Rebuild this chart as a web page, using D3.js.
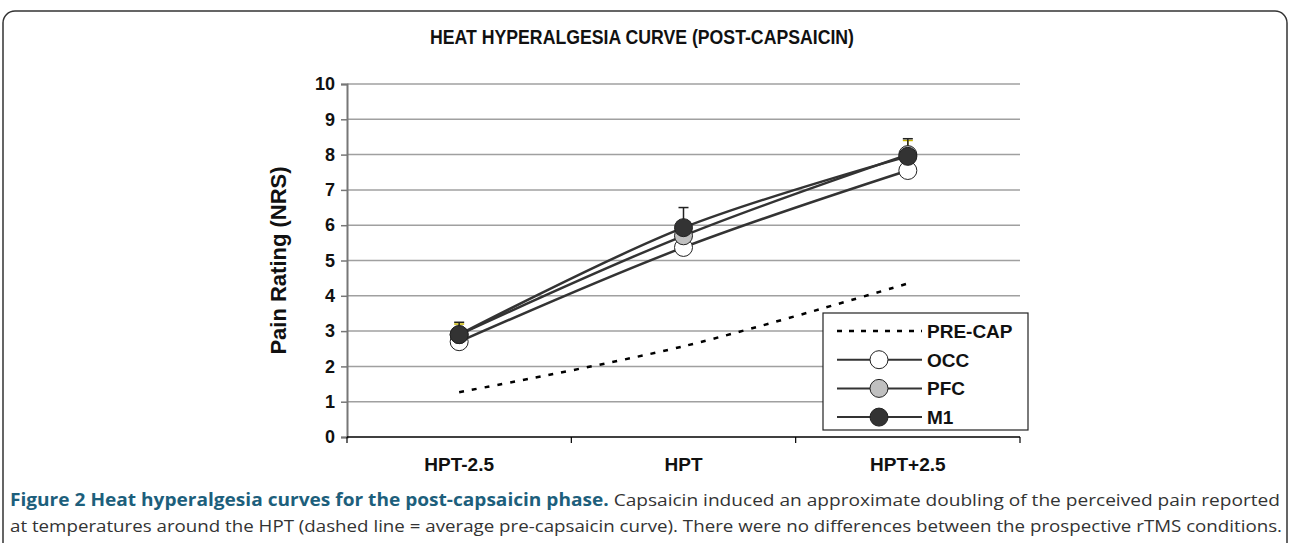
<!DOCTYPE html>
<html>
<head>
<meta charset="utf-8">
<script src="https://cdn.jsdelivr.net/npm/d3@7"></script>
<style>
  body { margin: 0; background: #fff; }
  svg { display: block; }
</style>
</head>
<body>
<div id="container"></div>
<script>
/* DATA */
const categories = ["HPT-2.5", "HPT", "HPT+2.5"];
const preCap = [1.27, 2.57, 4.35];
const occ = [2.7, 5.37, 7.55];
const pfc = [2.9, 5.7, 8.0];
const m1 = [2.9, 5.93, 7.95];
const m1ErrTop = [3.25, 6.5, 8.45];
const pfcErrTop = [3.2, 6.1, 8.4];
const yTicks = [0, 1, 2, 3, 4, 5, 6, 7, 8, 9, 10];
const legendLabels = ["PRE-CAP", "OCC", "PFC", "M1"];

const width = 1290;
const height = 543;
const margin = { top: 84, left: 347, right: 270, bottom: 106 };
const FONT = "Arial, 'Liberation Sans', sans-serif";

const svg = d3.select("#container")
  .append("svg")
  .attr("width", width)
  .attr("height", height)
  .style("font-family", FONT);

// figure frame
svg.append("rect")
  .attr("x", 3).attr("y", 11)
  .attr("width", 1284).attr("height", 560)
  .attr("rx", 12)
  .attr("fill", "none")
  .attr("stroke", "#333")
  .attr("stroke-width", 1.5);

/* SCALES */
const xScale = d3.scaleBand()
  .domain(categories)
  .range([margin.left, width - margin.right]);
const xc = (c) => xScale(c) + xScale.bandwidth() / 2;

const yScale = d3.scaleLinear()
  .domain([0, 10])
  .range([height - margin.bottom, margin.top]);

// GRID
svg.append("g")
  .selectAll("line")
  .data(yTicks.slice(1))
  .join("line")
  .attr("x1", margin.left)
  .attr("x2", width - margin.right)
  .attr("y1", (d) => yScale(d))
  .attr("y2", (d) => yScale(d))
  .attr("stroke", "#a0a0a0")
  .attr("stroke-width", 1.5);

// Y AXIS
const yAxis = svg.append("g")
  .attr("transform", `translate(${margin.left},0)`)
  .call(d3.axisLeft(yScale).tickValues(yTicks).tickSize(6).tickPadding(6));
yAxis.select(".domain").attr("stroke", "#777").attr("stroke-width", 2);
yAxis.selectAll(".tick line").attr("stroke", "#777").attr("stroke-width", 1.5);
yAxis.selectAll("text")
  .attr("font-size", 18)
  .attr("font-weight", "bold")
  .attr("fill", "#111")
  .style("font-family", FONT);

// X AXIS
const xAxisG = svg.append("g")
  .attr("transform", `translate(0,${yScale(0)})`);
xAxisG.append("line")
  .attr("x1", margin.left).attr("x2", width - margin.right)
  .attr("stroke", "#000").attr("stroke-width", 1.5);
xAxisG.selectAll(".xtick")
  .data(categories.concat(["end"]))
  .join("line")
  .attr("class", "xtick")
  .attr("x1", (d, i) => margin.left + i * xScale.bandwidth())
  .attr("x2", (d, i) => margin.left + i * xScale.bandwidth())
  .attr("y1", 0).attr("y2", 6)
  .attr("stroke", "#000").attr("stroke-width", 1.2);
xAxisG.selectAll(".xlabel")
  .data(categories)
  .join("text")
  .attr("class", "xlabel")
  .attr("x", (d) => xc(d))
  .attr("y", 34)
  .attr("text-anchor", "middle")
  .attr("font-size", 19)
  .attr("font-weight", "bold")
  .attr("fill", "#111")
  .text((d) => d);

// AXIS TITLE
svg.append("text")
  .attr("transform", `translate(286,${yScale(5)}) rotate(-90)`)
  .attr("text-anchor", "middle")
  .attr("font-size", 22)
  .attr("font-weight", "bold")
  .attr("fill", "#111")
  .text("Pain Rating (NRS)");

// CHART TITLE
svg.append("text")
  .attr("x", 642)
  .attr("y", 44)
  .attr("text-anchor", "middle")
  .attr("font-size", 20)
  .attr("font-weight", "bold")
  .attr("fill", "#111")
  .attr("textLength", 424)
  .attr("lengthAdjust", "spacingAndGlyphs")
  .text("HEAT HYPERALGESIA CURVE (POST-CAPSAICIN)");

/* LINES */
const line = (vals) => d3.line()
  .x((d, i) => xc(categories[i]))
  .y((d) => yScale(d))
  .curve(d3.curveCatmullRom.alpha(0.5))(vals);

svg.append("path")
  .attr("d", line(preCap))
  .attr("fill", "none")
  .attr("stroke", "#000")
  .attr("stroke-width", 2.5)
  .attr("stroke-dasharray", "5,8");

[occ, pfc, m1].forEach((s) => {
  svg.append("path")
    .attr("d", line(s))
    .attr("fill", "none")
    .attr("stroke", "#333")
    .attr("stroke-width", 2.5);
});

// ERROR BARS
const errBars = (vals, tops, color) => {
  const g = svg.append("g").attr("stroke", color).attr("stroke-width", 1.5);
  categories.forEach((c, i) => {
    g.append("line")
      .attr("x1", xc(c)).attr("x2", xc(c))
      .attr("y1", yScale(vals[i])).attr("y2", yScale(tops[i]));
    g.append("line")
      .attr("x1", xc(c) - 5).attr("x2", xc(c) + 5)
      .attr("y1", yScale(tops[i])).attr("y2", yScale(tops[i]));
  });
};
errBars(pfc, pfcErrTop, "#c8b400");
errBars(m1, m1ErrTop, "#222");

// MARKERS
const markers = (vals, fill) => {
  svg.append("g")
    .selectAll("circle")
    .data(vals)
    .join("circle")
    .attr("cx", (d, i) => xc(categories[i]))
    .attr("cy", (d) => yScale(d))
    .attr("r", 9)
    .attr("fill", fill)
    .attr("stroke", "#222")
    .attr("stroke-width", 1);
};
markers(occ, "#fff");
markers(pfc, "#c0c0c0");
markers(m1, "#333");

/* LEGEND */
const lg = svg.append("g").attr("transform", "translate(823,313)");
lg.append("rect")
  .attr("width", 205).attr("height", 117)
  .attr("fill", "#fff")
  .attr("stroke", "#222").attr("stroke-width", 1.2);
const legendFills = [null, "#fff", "#c0c0c0", "#333"];
lg.selectAll(".lrow")
  .data(legendLabels)
  .join("g")
  .attr("class", "lrow")
  .attr("transform", (d, i) => `translate(0,${18 + i * 28.7})`)
  .each(function (d, i) {
    const row = d3.select(this);
    row.append("line")
      .attr("x1", 14).attr("x2", 99)
      .attr("stroke", i === 0 ? "#000" : "#333")
      .attr("stroke-width", i === 0 ? 2.5 : 2)
      .attr("stroke-dasharray", i === 0 ? "5,7" : null);
    if (legendFills[i]) {
      row.append("circle")
        .attr("cx", 56).attr("r", 9)
        .attr("fill", legendFills[i])
        .attr("stroke", "#222");
    }
    row.append("text")
      .attr("x", 104).attr("y", 7)
      .attr("font-size", 19)
      .attr("font-weight", "bold")
      .attr("fill", "#111")
      .text(d);
  });

/* CAPTION */
const cap1 = svg.append("text")
  .attr("x", 10).attr("y", 506)
  .attr("font-size", 17)
  .attr("fill", "#333")
  .style("font-family", "'Liberation Sans Narrow', 'Open Sans', sans-serif")
  .attr("textLength", 1270)
  .attr("lengthAdjust", "spacingAndGlyphs");
cap1.append("tspan")
  .attr("font-weight", "bold")
  .attr("fill", "#1d5f7c")
  .text("Figure 2 Heat hyperalgesia curves for the post-capsaicin phase.");
cap1.append("tspan")
  .text(" Capsaicin induced an approximate doubling of the perceived pain reported");

svg.append("text")
  .attr("x", 10).attr("y", 532)
  .attr("font-size", 17)
  .attr("fill", "#333")
  .style("font-family", "'Liberation Sans Narrow', 'Open Sans', sans-serif")
  .attr("textLength", 1272)
  .attr("lengthAdjust", "spacingAndGlyphs")
  .text("at temperatures around the HPT (dashed line = average pre-capsaicin curve). There were no differences between the prospective rTMS conditions.");
</script>
</body>
</html>
